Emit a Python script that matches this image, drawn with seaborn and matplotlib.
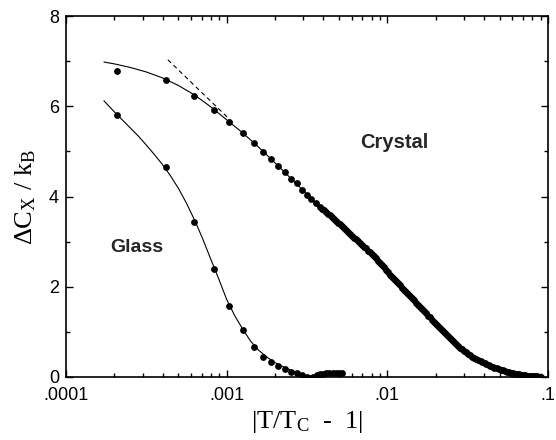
import numpy as np
import pandas as pd
import matplotlib
matplotlib.use('Agg')
import matplotlib.pyplot as plt
import seaborn as sns
from matplotlib.ticker import LogLocator, FixedLocator, NullFormatter

# log10 |T/Tc - 1| and Delta C / kB
crystal_logt = [-3.683, -3.379, -3.205, -3.081, -2.987, -2.901, -2.832, -2.776, -2.727, -2.683,
                -2.640, -2.602, -2.565, -2.534, -2.500, -2.472, -2.441, -2.420, -2.395, -2.370,
                -2.345, -2.320, -2.295, -2.270, -2.245, -2.220, -2.195, -2.170, -2.145, -2.120,
                -2.095, -2.070, -2.045, -2.020, -1.995, -1.970, -1.945, -1.920, -1.895, -1.870,
                -1.845, -1.820, -1.795, -1.770, -1.745, -1.720, -1.695, -1.670, -1.645, -1.620,
                -1.595, -1.570, -1.545, -1.520, -1.495, -1.470, -1.445, -1.420, -1.395, -1.370,
                -1.345, -1.320, -1.295, -1.270, -1.245, -1.220, -1.195, -1.170, -1.145, -1.120,
                -1.095, -1.070, -1.045]
crystal_cx = [6.78, 6.59, 6.23, 5.92, 5.65, 5.41, 5.19, 4.99, 4.83, 4.68,
              4.54, 4.39, 4.30, 4.15, 4.04, 3.95, 3.86, 3.76, 3.69, 3.61,
              3.54, 3.46, 3.38, 3.30, 3.22, 3.13, 3.05, 2.97, 2.89, 2.80,
              2.72, 2.63, 2.53, 2.43, 2.32, 2.22, 2.12, 2.03, 1.93, 1.84,
              1.74, 1.65, 1.55, 1.46, 1.36, 1.27, 1.17, 1.08, 0.99, 0.90,
              0.81, 0.73, 0.65, 0.58, 0.51, 0.45, 0.39, 0.35, 0.30, 0.26,
              0.22, 0.19, 0.16, 0.13, 0.10, 0.08, 0.06, 0.05, 0.04, 0.03,
              0.02, 0.02, 0.01]

# the dense part of the crystal run has points in between too
crystal_dense_logt = [-2.408, -2.383, -2.358, -2.333, -2.308, -2.283, -2.258, -2.233, -2.208, -2.183,
                      -2.158, -2.133, -2.108, -2.083, -2.058, -2.033, -2.008, -1.983, -1.958, -1.933,
                      -1.908, -1.883, -1.858, -1.833, -1.808, -1.783, -1.758, -1.733, -1.708, -1.683,
                      -1.658, -1.633, -1.608, -1.583, -1.558, -1.533, -1.508, -1.483, -1.458, -1.433,
                      -1.408, -1.383, -1.358, -1.333, -1.308, -1.283, -1.258, -1.233, -1.208, -1.183,
                      -1.158, -1.133, -1.108, -1.083, -1.058]
crystal_dense_cx = [3.72, 3.65, 3.58, 3.50, 3.42, 3.34, 3.26, 3.18, 3.09, 3.01,
                    2.93, 2.85, 2.76, 2.68, 2.58, 2.48, 2.38, 2.27, 2.17, 2.08,
                    1.98, 1.89, 1.79, 1.70, 1.60, 1.51, 1.41, 1.32, 1.22, 1.13,
                    1.04, 0.95, 0.86, 0.77, 0.69, 0.62, 0.55, 0.48, 0.42, 0.37,
                    0.33, 0.28, 0.24, 0.21, 0.18, 0.15, 0.12, 0.09, 0.07, 0.06,
                    0.05, 0.03, 0.03, 0.02, 0.01]

glass_logt = [-3.683, -3.379, -3.205, -3.081, -2.987, -2.901, -2.832, -2.776, -2.727, -2.683,
              -2.640, -2.602, -2.565, -2.530, -2.500, -2.484, -2.460, -2.440, -2.420, -2.400,
              -2.380, -2.360, -2.340, -2.320, -2.300, -2.285]
glass_cx = [5.81, 4.66, 3.44, 2.39, 1.57, 1.04, 0.67, 0.44, 0.33, 0.24,
            0.18, 0.12, 0.09, 0.04, 0.00, -0.03, 0.00, 0.04, 0.06, 0.07,
            0.08, 0.08, 0.09, 0.09, 0.08, 0.08]

# fitted curves
crystal_fit_logt = [-3.764, -3.70, -3.60, -3.50, -3.40, -3.30, -3.20, -3.10, -3.00, -2.90,
                    -2.80, -2.70, -2.60, -2.50, -2.40, -2.30, -2.20, -2.10, -2.00, -1.90,
                    -1.80, -1.70, -1.60, -1.50, -1.40, -1.30, -1.20, -1.10, -1.04]
crystal_fit_cx = [6.98, 6.94, 6.86, 6.76, 6.63, 6.46, 6.25, 5.99, 5.70, 5.41,
                  5.09, 4.75, 4.40, 4.05, 3.71, 3.40, 3.08, 2.74, 2.35, 1.96,
                  1.58, 1.20, 0.84, 0.52, 0.31, 0.17, 0.07, 0.02, 0.01]

glass_fit_logt = [-3.764, -3.70, -3.65, -3.60, -3.55, -3.50, -3.45, -3.40, -3.35, -3.30,
                  -3.25, -3.20, -3.15, -3.10, -3.05, -3.00, -2.95, -2.90, -2.85, -2.80,
                  -2.75, -2.70, -2.65, -2.60, -2.55, -2.50, -2.46]
glass_fit_cx = [6.12, 5.88, 5.70, 5.52, 5.34, 5.14, 4.93, 4.71, 4.46, 4.18,
                3.85, 3.48, 3.07, 2.62, 2.18, 1.72, 1.36, 1.06, 0.79, 0.59,
                0.44, 0.32, 0.23, 0.15, 0.08, 0.03, 0.00]

# dashed asymptote
asym_logt = [-3.366, -2.95]
asym_cx = [7.03, 5.60]


def to_df(logt, cx):
    return pd.DataFrame({'t': np.power(10.0, logt), 'cx': cx})


sns.set_theme(style='ticks')
plt.rcParams['font.family'] = ['Liberation Sans', 'DejaVu Sans']
plt.rcParams['mathtext.fontset'] = 'custom'
plt.rcParams['mathtext.rm'] = 'Liberation Serif'
plt.rcParams['mathtext.it'] = 'Liberation Serif:italic'

fig = plt.figure(figsize=(5.56, 4.40), dpi=100)
ax = fig.add_axes([0.1187, 0.1432, 0.8669, 0.8204])

line_kw = dict(x='t', y='cx', color='black', sort=False, estimator=None, ax=ax)
sns.lineplot(data=to_df(crystal_fit_logt, crystal_fit_cx), linewidth=0.8, **line_kw)
sns.lineplot(data=to_df(glass_fit_logt, glass_fit_cx), linewidth=0.8, **line_kw)
sns.lineplot(data=to_df(asym_logt, asym_cx), linewidth=0.8, linestyle=(0, (4, 3)), **line_kw)

dot_kw = dict(x='t', y='cx', color='black', s=24, linewidth=0, ax=ax, zorder=3)
sns.scatterplot(data=to_df(crystal_logt, crystal_cx), **dot_kw)
sns.scatterplot(data=to_df(crystal_dense_logt, crystal_dense_cx), **dot_kw)
sns.scatterplot(data=to_df(glass_logt, glass_cx), **dot_kw)

ax.set_xscale('log')
ax.set_xlim(1e-4, 0.1)
ax.set_ylim(0, 8)
ax.set_xticks([1e-4, 1e-3, 1e-2, 1e-1])
ax.set_xticklabels(['.0001', '.001', '.01', '.1'])
ax.xaxis.set_minor_locator(LogLocator(base=10, subs=np.arange(2, 10)))
ax.xaxis.set_minor_formatter(NullFormatter())
ax.set_yticks([0, 2, 4, 6, 8])
ax.yaxis.set_minor_locator(FixedLocator([1, 3, 5, 7]))

ax.tick_params(which='both', direction='in', top=True, right=True, colors='black',
               width=1.0, labelsize=13)
ax.tick_params(axis='x', which='major', pad=7)
ax.tick_params(axis='y', which='major', pad=5)
ax.tick_params(which='major', length=5)
ax.tick_params(which='minor', length=3)
for sp in ax.spines.values():
    sp.set_color('black')
    sp.set_linewidth(1.2)

serif = ['Liberation Serif', 'DejaVu Serif']
ax.set_xlabel(r'|T/T$_{\mathrm{C}}$  -  1|', fontsize=19, labelpad=4, color='black',
              family=serif)
ax.set_ylabel(r'$\Delta$C$_{\mathrm{X}}$ / k$_{\mathrm{B}}$', fontsize=19, labelpad=8,
              color='black', family=serif)

ax.text(0.0110, 5.19, 'Crystal', fontsize=14.5, fontweight='bold', ha='center', va='center')
ax.text(0.000276, 2.88, 'Glass', fontsize=14, fontweight='bold', ha='center', va='center')

fig.savefig('out.png', dpi=100)
